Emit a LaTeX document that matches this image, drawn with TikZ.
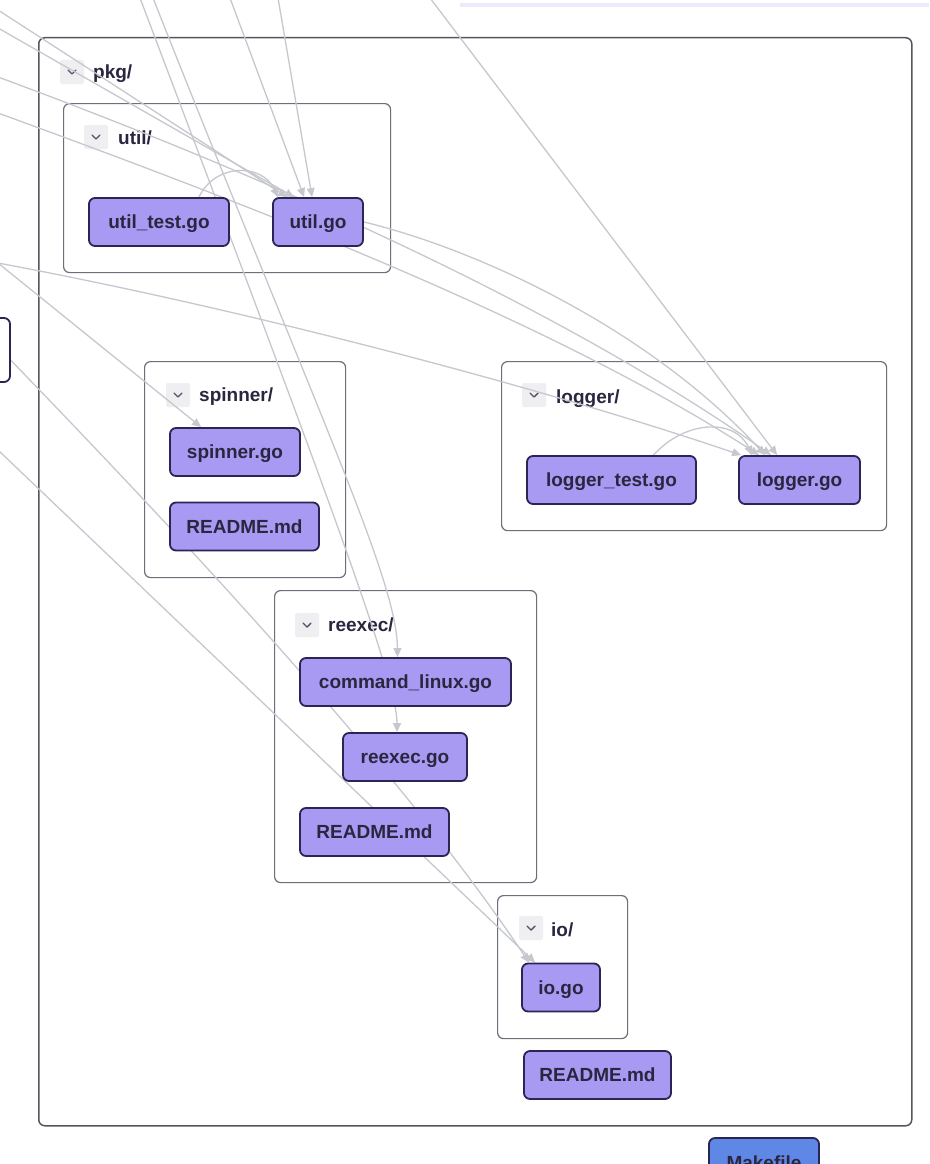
\documentclass[tikz,border=0pt]{standalone}
\usepackage{fontspec}
\setmainfont{Liberation Sans}
\usetikzlibrary{arrows.meta,calc}
\pgfdeclarelayer{bg}
\pgfdeclarelayer{mid}
\pgfsetlayers{bg,mid,main}
\definecolor{filefill}{HTML}{A899F2}
\definecolor{fileborder}{HTML}{2A2553}
\definecolor{txt}{HTML}{2A2640}
\definecolor{edgec}{HTML}{C6C8CE}
\definecolor{boxc}{HTML}{6E6E78}
\definecolor{pkgc}{HTML}{55555E}
\definecolor{chevbg}{HTML}{EFEFF2}
\definecolor{mkfill}{HTML}{5F87E6}
\definecolor{lav}{HTML}{EEEAFB}
\begin{document}
\begin{tikzpicture}[x=1pt,y=-1pt,
  file/.style={draw=fileborder, fill=filefill, line width=1.8pt, rounded corners=6pt,
    text=txt, font=\fontsize{19}{22}\selectfont\bfseries, inner sep=0pt,
    text height=13.6pt, text depth=0pt, minimum height=48pt},
  container/.style={draw=boxc, fill=white, line width=1.2pt, rounded corners=6pt,
    anchor=north west, inner sep=0pt},
  lbl/.style={anchor=base west, inner sep=0pt, text=txt, font=\fontsize{19}{22}\selectfont\bfseries},
  chevbox/.style={fill=chevbg, rounded corners=2pt, minimum size=24pt, inner sep=0pt},
  chevmark/.style={draw=txt!80, line width=1.4pt, line cap=round, line join=round},
  dep/.style={draw=edgec, line width=1.3pt, -{Triangle[length=9pt,width=8pt]}}
]
\useasboundingbox (0,0) rectangle (929,1164);
\clip (0,0) rectangle (929,1164);

\begin{pgfonlayer}{bg}
\fill[white] (0,0) rectangle (929,1164);
\fill[lav] (460,3) rectangle (929,7);
% containers
\node[container, draw=pkgc, line width=1.5pt, minimum width=873pt, minimum height=1088pt] (pkgbox) at (38,37) {};
\node[container, minimum width=327pt, minimum height=169pt] (utilbox) at (63,103) {};
\node[container, minimum width=201pt, minimum height=216pt] (spinbox) at (144,361) {};
\node[container, minimum width=385pt, minimum height=169pt] (logbox) at (501,361) {};
\node[container, minimum width=262pt, minimum height=292pt] (rebox) at (274,590) {};
\node[container, minimum width=130pt, minimum height=143pt] (iobox) at (497,895) {};
% folder labels
\node[chevbox] (pkgch) at (72,72) {};
\draw[chevmark] ($(pkgch)+(-4,-2)$) -- ($(pkgch)+(0,2)$) -- ($(pkgch)+(4,-2)$);
\node[lbl] (pkgl) at (93,78) {pkg/};
\node[chevbox] (utilch) at (96,137) {};
\draw[chevmark] ($(utilch)+(-4,-2)$) -- ($(utilch)+(0,2)$) -- ($(utilch)+(4,-2)$);
\node[lbl] (utill) at (118,144) {util/};
\node[chevbox] (spinch) at (178,395) {};
\draw[chevmark] ($(spinch)+(-4,-2)$) -- ($(spinch)+(0,2)$) -- ($(spinch)+(4,-2)$);
\node[lbl] (spinl) at (199,401) {spinner/};
\node[chevbox] (logch) at (534,395) {};
\draw[chevmark] ($(logch)+(-4,-2)$) -- ($(logch)+(0,2)$) -- ($(logch)+(4,-2)$);
\node[lbl] (logl) at (556,403) {logger/};
\node[chevbox] (rech) at (307,625) {};
\draw[chevmark] ($(rech)+(-4,-2)$) -- ($(rech)+(0,2)$) -- ($(rech)+(4,-2)$);
\node[lbl] (rel) at (328,631) {reexec/};
\node[chevbox] (ioch) at (531,928) {};
\draw[chevmark] ($(ioch)+(-4,-2)$) -- ($(ioch)+(0,2)$) -- ($(ioch)+(4,-2)$);
\node[lbl] (iol) at (551,936) {io/};
\end{pgfonlayer}

% file nodes
\node[file, minimum width=140pt] (ut) at (159,222) {util\_test.go};
\node[file, minimum width=90pt] (u) at (318,222) {util.go};
\node[file, minimum width=130pt] (sg) at (235,452) {spinner.go};
\node[file, minimum width=149pt] (sr) at (244.5,526.5) {README.md};
\node[file, minimum width=169pt] (lt) at (611.5,480) {logger\_test.go};
\node[file, minimum width=121pt] (lg) at (799.5,480) {logger.go};
\node[file, minimum width=211pt] (cl) at (405.5,682) {command\_linux.go};
\node[file, minimum width=124pt] (rg) at (405,757) {reexec.go};
\node[file, minimum width=149pt] (rr) at (374.5,832) {README.md};
\node[file, minimum width=78pt] (iog) at (561,987.5) {io.go};
\node[file, minimum width=147pt] (pr) at (597.5,1075) {README.md};
\node[file, fill=mkfill, minimum width=110pt, minimum height=50pt] (mk) at (764,1163) {Makefile};
\node[draw=fileborder, fill=white, line width=1.8pt, rounded corners=6pt, minimum width=60pt, minimum height=64pt] (leftnode) at (-20,350) {};

% free ends of connectors
\coordinate (a1) at (-2,10);
\coordinate (a2) at (-2,28);
\coordinate (a3) at (230,-2);
\coordinate (a4) at (278,-2);
\coordinate (a5) at (-2,77);
\coordinate (a6) at (-2,113);
\coordinate (a7) at (430,-2);
\coordinate (a8) at (-2,263);
\coordinate (a9) at (-2,347);
\coordinate (a10) at (-2,450);
\coordinate (a11) at (140,-2);
\coordinate (a12) at (153,-2);

\begin{pgfonlayer}{mid}
% into util.go
\draw[dep] ($(ut.north)+(40,0)$) .. controls (215,163) and (262,163) .. ($(u.north west)+(6,0)$);
\draw[dep] (a1) -- ($(u.north west)+(15,0)$);
\draw[dep] (a2) -- ($(u.north west)+(22,0)$);
\draw[dep] (a3) -- ($(u.north west)+(32,0)$);
\draw[dep] (a4) -- ($(u.north west)+(40,0)$);
% into logger.go
\draw[dep] (a5) .. controls (250,170) and (550,300) .. ($(lg.north west)+(33,0)$);
\draw[dep] (a6) .. controls (250,205) and (550,320) .. ($(lg.north west)+(21,0)$);
\draw[dep] (u.east) .. controls (480,250) and (650,330) .. ($(lg.north west)+(27,0)$);
\draw[dep] (a7) -- ($(lg.north west)+(39,0)$);
\draw[dep] (a8) .. controls (250,310) and (550,390) .. ($(lg.north west)+(3,0)$);
\draw[dep] ($(lt.north)+(42,0)$) .. controls (685,420) and (735,418) .. ($(lg.north west)+(14,0)$);
% into spinner.go
\draw[dep] (a8) -- ($(sg.north west)+(32,0)$);
% into io.go
\draw[dep] (a9) .. controls (250,607) and (420,800) .. ($(iog.north west)+(8,0)$);
\draw[dep] (a10) -- ($(iog.north west)+(14,0)$);
% into reexec
\draw[dep] (a11) .. controls (330,500) and (397,680) .. ($(rg.north)+(-8,0)$);
\draw[dep] (a12) .. controls (320,420) and (397,580) .. ($(cl.north)+(-8,0)$);
\end{pgfonlayer}
\end{tikzpicture}
\end{document}
